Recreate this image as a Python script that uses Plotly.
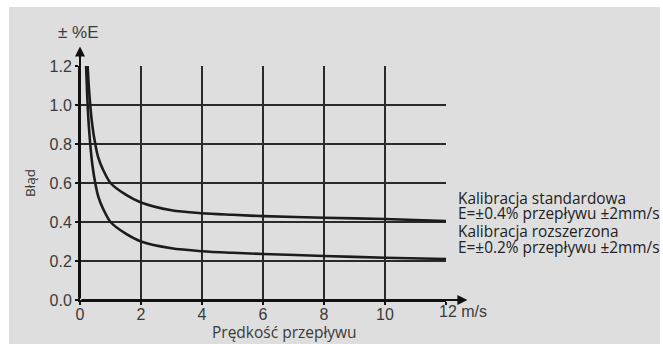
import plotly.graph_objects as go

# Data
std_x = [0.25, 0.3, 0.4, 0.5, 0.6, 0.75, 1, 1.5, 2, 3, 4, 5, 6, 8, 10, 12]
std_y = [1.2, 1.07, 0.9, 0.8, 0.73, 0.67, 0.6, 0.54, 0.5, 0.46, 0.445, 0.437, 0.43, 0.422, 0.415, 0.405]
ext_x = [0.2, 0.25, 0.3, 0.4, 0.5, 0.6, 0.75, 1, 1.5, 2, 3, 4, 5, 6, 8, 10, 12]
ext_y = [1.2, 1.0, 0.87, 0.7, 0.6, 0.53, 0.47, 0.4, 0.34, 0.3, 0.265, 0.25, 0.242, 0.236, 0.226, 0.217, 0.21]
x_ticks = [0, 2, 4, 6, 8, 10, 12]
x_ticktext = ["0", "2", "4", "6", "8", "10", ""]
y_ticks = [0.0, 0.2, 0.4, 0.6, 0.8, 1.0, 1.2]
y_ticktext = ["0.0", "0.2", "0.4", "0.6", "0.8", "1.0", "1.2"]
right_texts = [
    "Kalibracja standardowa",
    "E=±0.4% przepływu ±2mm/s",
    "Kalibracja rozszerzona",
    "E=±0.2% przepływu ±2mm/s",
]
right_text_px_y = [198, 213, 232, 247]

LINE = "#1c1c1c"
TXT = "#3a3a3a"
HUM = "Open Sans, Noto Sans, sans-serif"
ARI = "Liberation Sans, Arial, sans-serif"

fig = go.Figure()
for xs, ys in [(std_x, std_y), (ext_x, ext_y)]:
    fig.add_trace(go.Scatter(x=xs, y=ys, mode="lines",
                             line=dict(color=LINE, width=2.6, shape="spline", smoothing=0.8),
                             showlegend=False, hoverinfo="skip"))

L, R, T, B = 80, 217, 66, 44
W, H = 663, 344
pw, ph = W - L - R, H - T - B


def px_to_paper_x(p):
    return (p - L) / pw


def px_to_paper_y(p):
    return (H - B - p) / ph


fig.add_shape(type="rect", xref="paper", yref="paper",
              x0=px_to_paper_x(9), x1=px_to_paper_x(660),
              y0=px_to_paper_y(350), y1=px_to_paper_y(7),
              fillcolor="#dedede", line=dict(width=0), layer="below")

axis_common = dict(showgrid=True, gridcolor="#2a2a2a", gridwidth=1.6, showline=True,
                   linecolor="#111", linewidth=2, ticks="outside", ticklen=3, tickcolor="#111",
                   tickwidth=1.5, tickfont=dict(family=ARI, size=16, color=TXT),
                   zeroline=False, fixedrange=True, automargin=False)
fig.update_layout(
    width=W, height=H,
    margin=dict(l=L, r=R, t=T, b=B, autoexpand=False),
    paper_bgcolor="white", plot_bgcolor="rgba(0,0,0,0)",
    xaxis=dict(range=[0, 12], tickvals=x_ticks, ticktext=x_ticktext, ticklabelstandoff=-4,
               **axis_common),
    yaxis=dict(range=[0, 1.2], tickvals=y_ticks, ticktext=y_ticktext, **axis_common),
)

# axis arrows
fig.add_annotation(x=0, y=1.3, ax=0, ay=0, axref="x", ayref="y", xref="x", yref="y",
                   text="", showarrow=True, arrowhead=2, arrowsize=1, arrowwidth=2, arrowcolor="#111")
fig.add_annotation(x=12.7, y=0, ax=0, ay=0, axref="x", ayref="y", xref="x", yref="y",
                   text="", showarrow=True, arrowhead=2, arrowsize=1, arrowwidth=2, arrowcolor="#111")

fig.add_annotation(x=12, y=0, xref="x", yref="y", text="12 m/s", showarrow=False,
                   xanchor="left", yanchor="top", xshift=-9, yshift=-1,
                   font=dict(family=ARI, size=16, color=TXT))
fig.add_annotation(x=px_to_paper_x(78), y=px_to_paper_y(32), xref="paper", yref="paper", text="± %E",
                   showarrow=False, xanchor="center", yanchor="middle",
                   font=dict(family=ARI, size=17, color=TXT))
fig.add_annotation(x=px_to_paper_x(30), y=px_to_paper_y(183), xref="paper", yref="paper", text="Błąd",
                   showarrow=False, textangle=-90, xanchor="center", yanchor="middle",
                   font=dict(family=HUM, size=13.5, color=TXT))
fig.add_annotation(x=px_to_paper_x(284), y=px_to_paper_y(332), xref="paper", yref="paper",
                   text="Prędkość przepływu", showarrow=False, xanchor="center", yanchor="middle",
                   font=dict(family=HUM, size=15.5, color=TXT))

for t, yy in zip(right_texts, right_text_px_y):
    fig.add_annotation(x=px_to_paper_x(456), y=px_to_paper_y(yy), xref="paper", yref="paper", text=t,
                       showarrow=False, xanchor="left", yanchor="middle",
                       font=dict(family=HUM, size=15.4, color="#222"))

fig.write_html("out.html", config={"displayModeBar": False},
               post_script="document.body.style.margin='0';document.body.style.overflow='hidden';")
